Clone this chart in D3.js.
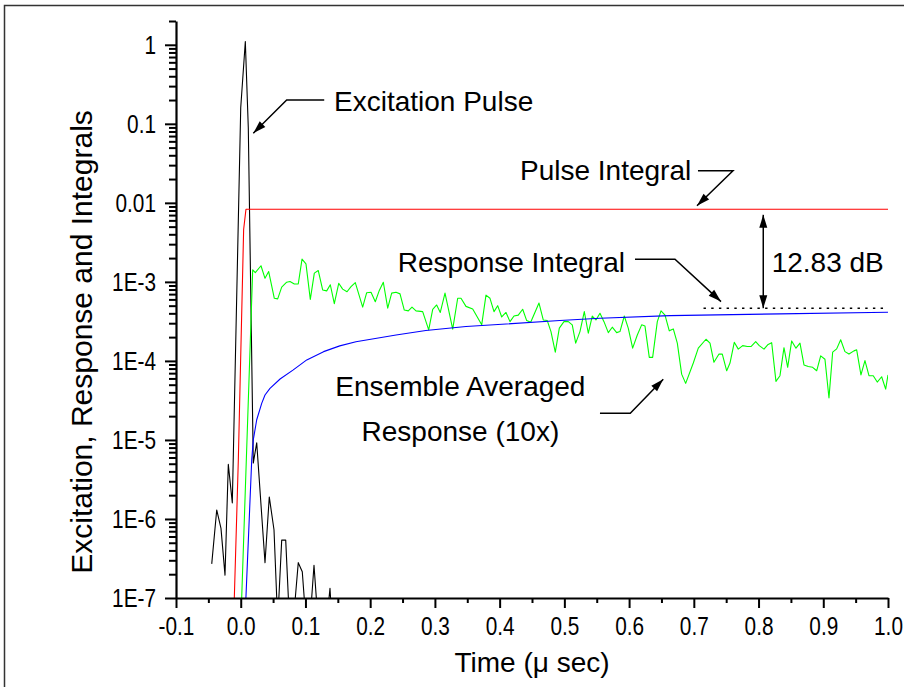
<!DOCTYPE html>
<html><head><meta charset="utf-8">
<script src="https://cdn.jsdelivr.net/npm/d3@7"></script>
<style>
body{margin:0;background:#fff;}
svg{display:block;}
text{font-family:Arial,"Liberation Sans",sans-serif;fill:#000;}
</style></head><body>
<svg id="chart" width="904" height="687"></svg>
<script>
// ---------- data ----------
const xTicks = [-0.1, 0, 0.1, 0.2, 0.3, 0.4, 0.5, 0.6, 0.7, 0.8, 0.9, 1.0];
const xTickLabels = ["-0.1","0.0","0.1","0.2","0.3","0.4","0.5","0.6","0.7","0.8","0.9","1.0"];
const xMinorTicks = [-0.05, 0.05, 0.15, 0.25, 0.35, 0.45, 0.55, 0.65, 0.75, 0.85, 0.95];
const yTicks = [1, 0.1, 0.01, 1e-3, 1e-4, 1e-5, 1e-6, 1e-7];
const yTickLabels = ["1","0.1","0.01","1E-3","1E-4","1E-5","1E-6","1E-7"];

// Excitation pulse (black)
const pulseT = [-0.0448,-0.0371,-0.0305,-0.0243,-0.0192,-0.0130,0.0000,0.0071,0.0117,0.0194,0.0247,0.0375,0.0441,0.0514,0.0571,0.0633,0.0695,0.0753,0.0812,0.0889,0.0951,0.1008,0.1070,0.1132,0.1194,0.1255,0.1328,0.1379,0.1410];
const pulseV = [2.7e-7,1.3e-6,7.6e-7,1.95e-7,4.9e-6,1.6e-6,0.16,1.1,0.089,5.1e-6,9.2e-6,2.8e-7,1.9e-6,7.3e-7,5e-8,5.4e-7,5.4e-7,5e-8,5e-8,2.8e-7,2.15e-7,5e-8,5e-8,2.6e-7,5e-8,5e-8,5e-8,1.33e-7,5e-8];

// Pulse integral (red)
const pulseIntT = [-0.0099,-0.0037,0.0045,0.0081,1.0];
const pulseIntV = [1e-7,5.6e-6,4.6e-3,8.3e-3,8.3e-3];

// Ensemble averaged response x10 (green)
const respT = [0.0015,0.0185,0.0225,0.0313,0.0375,0.0432,0.0519,0.0571,0.0633,0.0710,
0.0761,0.0828,0.0889,0.0947,0.1008,0.1075,0.1137,0.1198,0.1266,0.1328,
0.1384,0.1446,0.1514,0.1575,0.1642,0.1704,0.1770,0.1884,0.1946,0.2013,
0.2079,0.2141,0.2203,0.2271,0.2332,0.2399,0.2461,0.2527,0.2589,0.2646,
0.2708,0.2811,0.2904,0.2966,0.3027,0.3083,0.3156,0.3275,0.3352,0.3403,
0.3480,0.3584,0.3723,0.3789,0.3851,0.3913,0.3970,0.4032,0.4098,0.4160,
0.4222,0.4288,0.4356,0.4418,0.4480,0.4608,0.4674,0.4736,0.4793,0.4860,
0.4922,0.4994,0.5061,0.5122,0.5175,0.5241,0.5308,0.5370,0.5431,0.5488,
0.5550,0.5612,0.5679,0.5740,0.5808,0.5859,0.5926,0.5987,0.6055,0.6127,
0.6194,0.6245,0.6312,0.6364,0.6436,0.6493,0.6555,0.6621,0.6683,0.6745,
0.6812,0.6874,0.6992,0.7069,0.7188,0.7250,0.7311,0.7389,0.7440,0.7508,
0.7559,0.7625,0.7687,0.7755,0.7826,0.7883,0.7956,0.8011,0.8084,0.8141,
0.8203,0.8269,0.8331,0.8393,0.8450,0.8512,0.8578,0.8640,0.8702,0.8768,
0.8836,0.8898,0.8960,0.9026,0.9088,0.9145,0.9207,0.9269,0.9335,0.9397,
0.9474,0.9516,0.9582,0.9644,0.9706,0.9772,0.9834,0.9902,0.9964,1.0];
const respV = [1e-7,1.42e-3,1.31e-3,1.60e-3,1.11e-3,1.35e-3,6.2e-4,6.1e-4,8.6e-4,9.9e-4,
1.01e-3,9.4e-4,9.4e-4,1.94e-3,1.69e-3,6.0e-4,1.29e-3,1.39e-3,7.9e-4,7.7e-4,
9.2e-4,5.3e-4,9.6e-4,8.1e-4,7.5e-4,8.7e-4,9.8e-4,4.8e-4,7.3e-4,7.4e-4,
5.6e-4,7.8e-4,9.9e-4,4.65e-4,7.2e-4,7.4e-4,7.05e-4,4.4e-4,4.3e-4,4.8e-4,
4.3e-4,4.2e-4,2.47e-4,4.5e-4,5.1e-4,4.1e-4,7.2e-4,2.52e-4,6.2e-4,6.2e-4,
4.9e-4,4.55e-4,2.86e-4,6.8e-4,6.2e-4,4.2e-4,5.0e-4,3.6e-4,4.1e-4,3.14e-4,
3.7e-4,3.8e-4,4.5e-4,3.24e-4,3.09e-4,5.4e-4,3.3e-4,3.24e-4,2.35e-4,1.29e-4,
2.6e-4,3.14e-4,3.14e-4,2.86e-4,1.68e-4,2.35e-4,4.2e-4,2.24e-4,3.7e-4,3.3e-4,
4.0e-4,3.14e-4,2.28e-4,2.67e-4,2.28e-4,2.35e-4,3.7e-4,2.6e-4,1.45e-4,2.13e-4,
2.86e-4,2.77e-4,1.11e-4,1.11e-4,3.14e-4,4.3e-4,3.8e-4,2.4e-4,2.54e-4,1.68e-4,
6.8e-5,5.2e-5,9.4e-5,1.45e-4,1.88e-4,1.68e-4,9.6e-5,1.22e-4,1.22e-4,7.5e-5,
9.4e-5,1.72e-4,1.41e-4,1.56e-4,1.52e-4,1.52e-4,1.75e-4,1.56e-4,1.41e-4,1.6e-4,
1.7e-4,5.5e-5,6.5e-5,1.47e-4,8.3e-5,1.79e-4,1.45e-4,1.68e-4,8.9e-5,8.5e-5,
8.3e-5,7.5e-5,1.16e-4,1.05e-4,3.4e-5,1.29e-4,1.42e-4,1.85e-4,1.31e-4,1.22e-4,
1.34e-4,1.38e-4,6.65e-5,1.01e-4,6.5e-5,6.5e-5,5.4e-5,6.3e-5,4.4e-5,6.65e-5];

// Response integral (blue)
const respIntT = [0.008,0.017,0.0194,0.0247,0.0324,0.0375,0.0452,0.0608,0.0812,0.102,0.128,0.153,0.178,0.24,0.286,0.348,0.493,0.555,0.663,0.833,1.0];
const respIntV = [1e-7,5.6e-6,1.0e-5,1.8e-5,2.9e-5,3.7e-5,4.5e-5,5.9e-5,7.7e-5,1.03e-4,1.31e-4,1.55e-4,1.75e-4,2.13e-4,2.42e-4,2.72e-4,3.24e-4,3.47e-4,3.74e-4,3.94e-4,4.13e-4];

// Reference level (dotted) and dB gap
const refLevelT = [0.715, 1.0];
const refLevelV = [4.65e-4, 4.65e-4];
const gapT = 0.8073;
const gapV = [7.05e-3, 4.65e-4];

// Annotations: text lines, t, v(baseline), anchor
const labels = [
  {lines:["Excitation Pulse"], t:0.1441, v:0.146, anchor:"start"},
  {lines:["Pulse Integral"], t:0.4315, v:0.0195, anchor:"start"},
  {lines:["Response Integral"], t:0.2425, v:1.35e-3, anchor:"start"},
  {lines:["12.83 dB"], t:0.8203, v:1.35e-3, anchor:"start"},
  {lines:["Ensemble Averaged","Response (10x)"], t:0.3394, v:[3.6e-5, 9.6e-6], anchor:"middle"}
];
// Arrow leaders (polyline points in data coords, last = tip)
const arrows = [
  {t:[0.129,0.071,0.0194], v:[0.2,0.2,0.076]},
  {t:[0.7064,0.7605,0.7049], v:[0.0254,0.0254,9.2e-3]},
  {t:[0.6091,0.6709,0.7420], v:[1.94e-3,1.94e-3,5.63e-4]},
  {t:[0.555,0.6018,0.6528], v:[2.18e-5,2.18e-5,5.87e-5]}
];

// ---------- chart ----------
const svg = d3.select("#chart");
const x = d3.scaleLinear().domain([-0.1, 1.0]).range([176, 888]);
const y = d3.scaleLog().domain([1e-7, 2]).range([598, 21]);

// outer frame
svg.append("path").attr("d", d3.line()([[4.5,687],[4.5,5.5],[904,5.5]]))
  .attr("fill","none").attr("stroke","#333").attr("stroke-width",1.5);

const defs = svg.append("defs");
defs.append("clipPath").attr("id","clip").append("rect")
  .attr("x", x.range()[0]).attr("y", y.range()[1])
  .attr("width", x.range()[1]-x.range()[0]).attr("height", y.range()[0]-y.range()[1]);
defs.append("marker").attr("id","arrow").attr("viewBox","-14 -5 15 10")
  .attr("refX",0).attr("refY",0).attr("markerWidth",15).attr("markerHeight",10)
  .attr("markerUnits","userSpaceOnUse").attr("orient","auto-start-reverse")
  .append("path").attr("d","M0,0L-13,-4L-13,4Z").attr("fill","#000");

const line = d3.line().x(d => x(d[0])).y(d => y(d[1]));
const plot = svg.append("g").attr("clip-path","url(#clip)");
function series(T, V, color, width){
  plot.append("path").datum(T.map((t,i)=>[t,V[i]]))
    .attr("d", line).attr("fill","none").attr("stroke",color)
    .attr("stroke-width",width).attr("stroke-linejoin","round");
}
series(pulseT, pulseV, "#000", 1.1);
series(pulseIntT, pulseIntV, "#ff0000", 1.1);
series(respT, respV, "#00ff00", 1.1);
series(respIntT, respIntV, "#0000ff", 1.1);

// dotted reference line
svg.append("path").datum(refLevelT.map((t,i)=>[t,refLevelV[i]]))
  .attr("d", line).attr("fill","none").attr("stroke","#000")
  .attr("stroke-width",1.5).attr("stroke-dasharray","2.4,5.3");

// double arrow
svg.append("path").datum(gapV.map(v=>[gapT,v]))
  .attr("d", line).attr("fill","none").attr("stroke","#000").attr("stroke-width",1.5)
  .attr("marker-start","url(#arrow)").attr("marker-end","url(#arrow)");

// leaders
arrows.forEach(a => {
  svg.append("path").datum(a.t.map((t,i)=>[t,a.v[i]]))
    .attr("d", line).attr("fill","none").attr("stroke","#000").attr("stroke-width",1.5)
    .attr("marker-end","url(#arrow)");
});

// labels
labels.forEach(l => {
  const vs = Array.isArray(l.v) ? l.v : [l.v];
  l.lines.forEach((s,i) => {
    svg.append("text").attr("x", x(l.t)).attr("y", y(vs[i]))
      .attr("text-anchor", l.anchor).attr("font-size", 28).text(s);
  });
});

// axes
svg.append("g").attr("transform",`translate(0,${y.range()[0]})`)
  .call(d3.axisBottom(x).tickValues(xTicks).tickFormat((d,i)=>xTickLabels[i])
    .tickSize(10).tickPadding(9).tickSizeOuter(0));
svg.append("g").attr("transform",`translate(0,${y.range()[0]})`)
  .call(d3.axisBottom(x).tickValues(xMinorTicks).tickFormat("").tickSize(5).tickSizeOuter(0))
  .call(g=>g.select(".domain").remove());

const yMinor = [];
for (let e=-7; e<=0; e++) for (let m=2; m<=9; m++){ const v=m*Math.pow(10,e); if (v<=2) yMinor.push(v); }
svg.append("g").attr("transform",`translate(${x.range()[0]},0)`)
  .call(d3.axisLeft(y).tickValues(yTicks).tickFormat((d,i)=>yTickLabels[i])
    .tickSize(11).tickPadding(9).tickSizeOuter(0));
svg.append("g").attr("transform",`translate(${x.range()[0]},0)`)
  .call(d3.axisLeft(y).tickValues(yMinor).tickFormat("").tickSize(7).tickSizeOuter(0))
  .call(g=>g.select(".domain").remove());

svg.selectAll(".domain").attr("stroke","#000").attr("stroke-width",2.2);
svg.selectAll(".tick line").attr("stroke","#000").attr("stroke-width",2);
svg.selectAll(".tick text").attr("font-size",26).attr("fill","#000")
  .each(function(){
    const t = d3.select(this);
    const tx = +t.attr("x") || 0;
    t.attr("transform", `translate(${tx},0) scale(0.8,1) translate(${-tx},0)`);
  });

// axis titles
svg.append("text").attr("x", (x.range()[0]+x.range()[1])/2).attr("y", 672)
  .attr("text-anchor","middle").attr("font-size",28).text("Time (\u03bc sec)");
svg.append("text").attr("transform","translate(92,342) rotate(-90)")
  .attr("text-anchor","middle").attr("font-size",30).text("Excitation, Response and Integrals");
</script></body></html>
